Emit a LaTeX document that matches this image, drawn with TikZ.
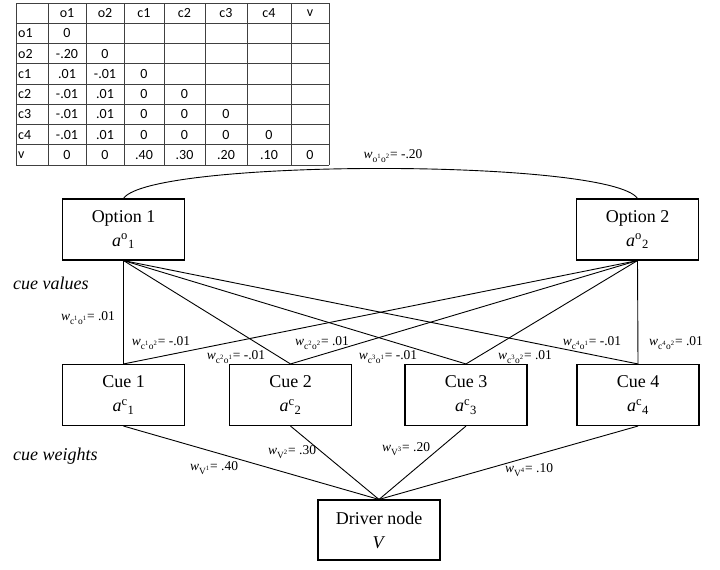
\documentclass[tikz,border=0pt]{standalone}
\usepackage{fontspec}
\setmainfont{Liberation Serif}
\newfontfamily\tabfont{Carlito}
\usetikzlibrary{positioning}

\tikzset{
  unit/.style={draw, line width=1.1pt, minimum width=122pt, minimum height=61pt, align=center,
    font=\fontsize{18}{24}\selectfont},
  link/.style={line width=0.9pt},
  wlab/.style={font=\fontsize{13.5}{15}\selectfont, inner sep=0pt},
  side/.style={anchor=west, inner sep=0pt, font=\fontsize{18}{20}\selectfont\itshape},
  tabtxt/.style={font=\tabfont\fontsize{14}{16}\selectfont, inner sep=0pt},
  grid/.style={line width=1pt, black!75},
}
\newcommand{\wsub}[1]{\textit{w}\textsubscript{#1}}
\newcommand{\act}[2]{\textit{a}\textsuperscript{#1}\textsubscript{#2}}
\newcommand{\sx}[1]{\textsuperscript{#1}}

\begin{document}
\begin{tikzpicture}[x=1pt,y=-1pt]
  \useasboundingbox (0,0) rectangle (720,570);
  % weight table
  \foreach \xx in {16,48,86,124,164,205,247,291,329}
    \draw[grid] (\xx,3) -- (\xx,165);
  \foreach \i in {0,...,8}
    \draw[grid] (16,3+20.25*\i) -- (329,3+20.25*\i);
  \foreach \lab [count=\k] in {o1,o2,c1,c2,c3,c4,v} {
    \pgfmathsetmacro{\cx}{{67,105,144,184.5,226,269,310}[\k-1]}
    \node[tabtxt] (hd\k) at (\cx,13.1) {\lab};
    \node[tabtxt, anchor=west] (rl\k) at (18,13.1+20.25*\k) {\lab};
  }
  \foreach \vals [count=\r] in {{0},{-.20,0},{.01,-.01,0},{-.01,.01,0,0},
      {-.01,.01,0,0,0},{-.01,.01,0,0,0,0},{0,0,.40,.30,.20,.10,0}} {
    \foreach \v [count=\k] in \vals {
      \pgfmathsetmacro{\cx}{{67,105,144,184.5,226,269,310}[\k-1]}
      \node[tabtxt] (t\r\k) at (\cx,13.1+20.25*\r) {\v};
    }
  }
  % options
  \node[unit] (opt1) at (123.5,229.5) {Option 1\\\act{o}{1}};
  \node[unit] (opt2) at (637.5,229.5) {Option 2\\\act{o}{2}};
  \draw[link] (opt1.north) .. controls +(27,-40) and +(-27,-40) .. (opt2.north);
  \node[wlab] (woo) at (393,156) {\wsub{o\sx{1}o\sx{2}}= -.20};
  % cues
  \node[unit] (cue1) at (123.5,395) {Cue 1\\\act{c}{1}};
  \node[unit] (cue2) at (290.5,395) {Cue 2\\\act{c}{2}};
  \node[unit] (cue3) at (466,395) {Cue 3\\\act{c}{3}};
  \node[unit] (cue4) at (638,395) {Cue 4\\\act{c}{4}};
  \foreach \o in {opt1,opt2}
    \foreach \c in {cue1,cue2,cue3,cue4}
      \draw[link] (\o.south) -- (\c.north);
  % driver
  \node[unit, minimum height=60pt] (drv) at (379,530) {Driver node\\\textit{V}};
  \foreach \c in {cue1,cue2,cue3,cue4}
    \draw[link] (\c.south) -- (drv.north);
  % side texts
  \node[side] (cval) at (13,283) {cue values};
  \node[side] (cwgt) at (13,456) {cue weights};
  % cue value labels
  \node[wlab] (w11) at (88,318) {\wsub{c\sx{1}o\sx{1}}= .01};
  \node[wlab] (w12) at (161,343) {\wsub{c\sx{1}o\sx{2}}= -.01};
  \node[wlab] (w21) at (236,357) {\wsub{c\sx{2}o\sx{1}}= -.01};
  \node[wlab] (w22) at (322,343) {\wsub{c\sx{2}o\sx{2}}= .01};
  \node[wlab] (w31) at (388,357) {\wsub{c\sx{3}o\sx{1}}= -.01};
  \node[wlab] (w32) at (525,357) {\wsub{c\sx{3}o\sx{2}}= .01};
  \node[wlab] (w41) at (592,343) {\wsub{c\sx{4}o\sx{1}}= -.01};
  \node[wlab] (w42) at (676,343) {\wsub{c\sx{4}o\sx{2}}= .01};
  % cue weight labels
  \node[wlab] (wv1) at (214,468) {\wsub{V\sx{1}}= .40};
  \node[wlab] (wv2) at (292,452) {\wsub{V\sx{2}}= .30};
  \node[wlab] (wv3) at (406,449) {\wsub{V\sx{3}}= .20};
  \node[wlab] (wv4) at (529,470) {\wsub{V\sx{4}}= .10};
\end{tikzpicture}
\end{document}
